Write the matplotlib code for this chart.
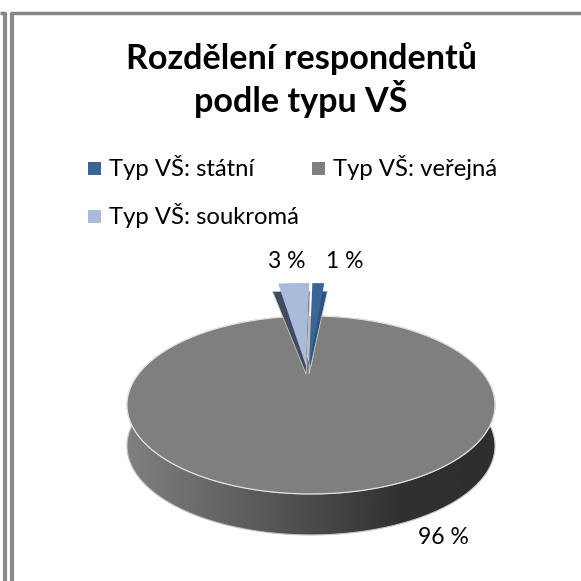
import numpy as np
import matplotlib
matplotlib.use("Agg")
import matplotlib.pyplot as plt
from matplotlib.patches import Polygon, Rectangle

plt.rcParams['font.family'] = ['Lato', 'DejaVu Sans']

title = "Rozdělení respondentů\npodle typu VŠ"
categories = ["Typ VŠ: státní", "Typ VŠ: veřejná", "Typ VŠ: soukromá"]
values = [1.0, 96.4, 2.6]
colors = ["#3b6497", "#7f7f7f", "#a9bbd9"]
dark_colors = ["#2b5482", "#7f7f7f", "#3f4b60"]

W = 581
fig = plt.figure(figsize=(W / 100, W / 100), dpi=100)
ax = fig.add_axes([0, 0, 1, 1])
wedges, _ = ax.pie(values, colors=colors, startangle=89, counterclock=False)


def wedge_outline(w):
    t = np.radians(np.linspace(w.theta1, w.theta2, 400))
    return np.r_[[[0, 0]], np.c_[np.cos(t), np.sin(t)], [[0, 0]]]


unit_polys = [wedge_outline(w) for w in wedges]
for w in wedges:
    w.remove()

ax.set_aspect('auto')
ax.axis('off')

# pie is seen in perspective, tip of slices is not the middle of the ellipse
cx, cy = 311, 366
k, a, b = 0.438, 165.4, 71.9
depth = 41


def persp(pts, scale=1.0):
    u = pts[:, 0] * scale
    v = pts[:, 1] * scale
    d = 1 + k * v
    return np.c_[cx + a * u / d, cy - b * v / d]


# frame
ax.plot([11.5, 11.5], [13, W], color='#8a8a8a', lw=3, solid_capstyle='butt')
ax.plot([10, W], [13, 13], color='#868686', lw=2.5, solid_capstyle='butt')
ax.plot([4.5, 4.5], [13, W], color='#8c8c8c', lw=3, solid_capstyle='butt')
ax.plot([0, 6], [13, 13], color='#868686', lw=2.5, solid_capstyle='butt')

# side of the pie
big = persp(unit_polys[1])
side_xy = np.r_[big, big[::-1] + [0, depth]]
side = Polygon(side_xy, closed=True, fc='none', ec='#c4c4c4', lw=0.8, zorder=3)
ax.add_patch(side)
ramp = np.linspace(0, 1, 256)
shade = np.interp(ramp, [0, 0.75, 1], [0.5, 0.19, 0.18]).reshape(1, -1)
im = ax.imshow(shade, cmap='gray', vmin=0, vmax=1, extent=(127, 495, 536, 400),
               aspect='auto', zorder=2)
im.set_clip_path(side)

# top of the pie
ax.add_patch(Polygon(big, closed=True, fc=colors[1], ec='#e6e6e6', lw=0.8, zorder=3))

# small slices stick out above the disc, soukroma is pulled a bit left
slice_shift = {0: -2, 2: -5}
for i in slice_shift:
    ax.add_patch(Polygon(persp(unit_polys[i]), closed=True, fc='#bcbcbc', ec='none', zorder=3))
    xy = persp(unit_polys[i], 2.33)
    xy[:, 0] += slice_shift[i]
    tip_x = cx + slice_shift[i]
    wall = xy.copy()
    wall[:, 0] = tip_x + (wall[:, 0] - tip_x) * 1.2
    wall[:, 1] += 8
    ax.add_patch(Polygon(wall, closed=True, fc=dark_colors[i], ec='#c8c8c8', lw=0.6, zorder=4))
    ax.add_patch(Polygon(xy, closed=True, fc=colors[i], ec='none', zorder=5))

ax.set_xlim(0, W)
ax.set_ylim(W, 0)

# title
ax.text(301, 80, title, ha='center', va='center', fontsize=24.6, fontweight='bold',
        color='black', linespacing=1.17)

# legend
legend_pos = [(88, 168), (312, 168), (88, 216)]
for name, col, (lx, ly) in zip(categories, colors, legend_pos):
    ax.add_patch(Rectangle((lx, ly - 6), 13, 13, fc=col, ec='none'))
    ax.text(lx + 21, ly, name, ha='left', va='center', fontsize=17.2, color='black')

# value labels
label_pos = [(345, 262), (443, 537), (287, 262)]
for v, (lx, ly) in zip(values, label_pos):
    ax.text(lx, ly, f"{round(v)} %", ha='center', va='center', fontsize=16.5, color='black')

fig.savefig("out.png", dpi=100, facecolor='white')
